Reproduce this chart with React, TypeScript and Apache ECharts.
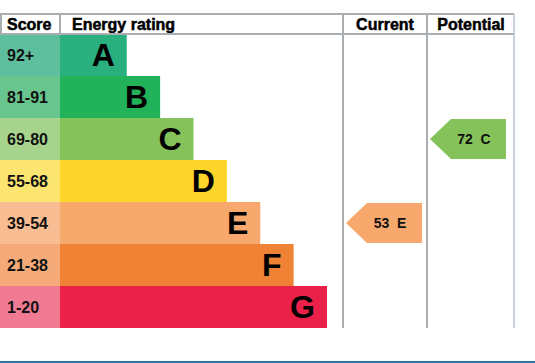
import React, { useEffect, useRef } from "react";
import * as echarts from "echarts";

const bands = ["A", "B", "C", "D", "E", "F", "G"];
const scoreRanges = ["92+", "81-91", "69-80", "55-68", "39-54", "21-38", "1-20"];
const barLengths = [2, 3, 4, 5, 6, 7, 8];
const bandColors = ["#2aaf7f", "#22b35a", "#86c25a", "#fdd42a", "#f7a86d", "#ef8234", "#ea2249"];
const scoreColors = ["#5ebf9e", "#67c58d", "#a7d48d", "#fbe470", "#f8bd92", "#f4ab79", "#ef7a91"];
const headers = ["Score", "Energy rating", "Current", "Potential"];
const currentScore = 53;
const currentBand = "E";
const potentialScore = 72;
const potentialBand = "C";

const FONT = "'Liberation Sans', Arial, Helvetica, sans-serif";
const LINE = "#a9aeb3";

export default function App() {
  const ref = useRef<HTMLDivElement>(null);
  useEffect(() => {
    document.body.style.margin = "0";
    const chart = echarts.init(ref.current!, undefined, { renderer: "svg" });
    const top = 34;
    const height = 294;
    const grids = [
      { left: 0, top, width: 60, height },
      { left: 60, top, width: 267, height },
      { left: 343, top, width: 84, height },
      { left: 427, top, width: 84, height },
    ];
    const xMax = [1, 8, 100, 100];
    const arrowRender = (params: any, api: any) => {
      const cs = params.coordSys;
      const c = api.coord([0, api.value(1)]);
      const h = api.size([0, 1])[1];
      const t = c[1] - h / 2 + 1;
      const b = c[1] + h / 2 - 1;
      const l = cs.x + 3;
      const r = cs.x + cs.width - 5;
      const color = bandColors[bands.indexOf(params.seriesIndex === 2 ? currentBand : potentialBand)];
      return {
        type: "group",
        children: [
          {
            type: "polygon",
            shape: { points: [[l, c[1]], [l + 21, t], [r, t], [r, b], [l + 21, b]] },
            style: { fill: color },
          },
          {
            type: "text",
            x: (l + r) / 2 + 6,
            y: c[1],
            style: {
              text: api.value(0) + "  " + bands[api.value(1)],
              fill: "#111",
              font: `bold 14px ${FONT}`,
              align: "center",
              verticalAlign: "middle",
            },
          },
        ],
      };
    };
    const hText = (text: string, x: number, align: string) => ({
      type: "text",
      x,
      y: 24,
      style: {
        text,
        fill: "#000",
        font: `bold 16px ${FONT}`,
        align,
        verticalAlign: "middle",
        stroke: "#000",
        lineWidth: 0.5,
      },
    });
    const line = (x1: number, y1: number, x2: number, y2: number, w = 2, c = LINE) => ({
      type: "line",
      shape: { x1, y1, x2, y2 },
      style: { stroke: c, lineWidth: w },
      z: 10,
    });
    chart.setOption({
      animation: false,
      grid: grids,
      xAxis: grids.map((_, i) => ({ type: "value", gridIndex: i, min: 0, max: xMax[i], show: false })),
      yAxis: grids.map((_, i) => ({ type: "category", gridIndex: i, data: bands, inverse: true, show: false })),
      series: [
        {
          type: "bar",
          xAxisIndex: 0,
          yAxisIndex: 0,
          barCategoryGap: "0%",
          data: scoreRanges.map((s, i) => ({ value: 1, itemStyle: { color: scoreColors[i] }, label: { formatter: s } })),
          label: { show: true, position: "insideLeft", distance: 7, color: "#111", fontFamily: FONT, fontWeight: "bold", fontSize: 16 },
        },
        {
          type: "bar",
          xAxisIndex: 1,
          yAxisIndex: 1,
          barCategoryGap: "0%",
          data: barLengths.map((v, i) => ({ value: v, itemStyle: { color: bandColors[i] }, label: { formatter: bands[i] } })),
          label: { show: true, position: "insideRight", distance: 12, color: "#000", fontFamily: FONT, fontWeight: "bold", fontSize: 32 },
        },
        {
          type: "custom",
          xAxisIndex: 2,
          yAxisIndex: 2,
          data: [[currentScore, currentBand]],
          encode: { x: 0, y: 1 },
          renderItem: arrowRender,
        },
        {
          type: "custom",
          xAxisIndex: 3,
          yAxisIndex: 3,
          data: [[potentialScore, potentialBand]],
          encode: { x: 0, y: 1 },
          renderItem: arrowRender,
        },
      ],
      graphic: [
        line(0, 14, 514, 14),
        line(0, 34, 514, 34),
        line(1, 14, 1, 34),
        line(60, 14, 60, 34),
        line(343, 14, 343, 328),
        line(427, 14, 427, 328),
        line(514, 14, 514, 328, 1.5, "#b8c2cc"),
        line(0, 362, 535, 362, 2, "#2a76a8"),
        hText(headers[0], 7, "left"),
        hText(headers[1], 72, "left"),
        hText(headers[2], 385, "center"),
        hText(headers[3], 471, "center"),
      ],
    });
    return () => chart.dispose();
  }, []);
  return <div ref={ref} style={{ width: 535, height: 363 }} />;
}
